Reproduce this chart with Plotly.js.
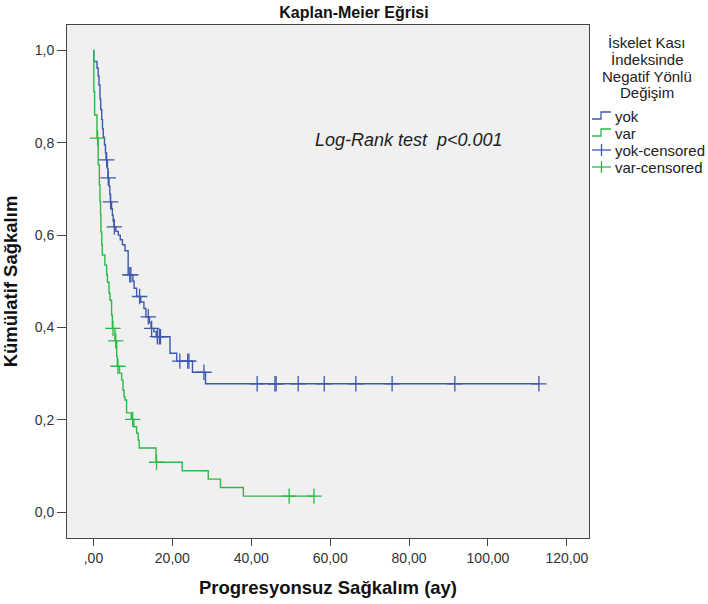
<!DOCTYPE html>
<html>
<head>
<meta charset="utf-8">
<script src="https://cdn.plot.ly/plotly-3.0.1.min.js"></script>
<style>html,body{margin:0;padding:0;background:#fff;}#chart{width:708px;height:604px;}</style>
</head>
<body>
<div id="chart"></div>
<script>
// Kaplan-Meier step data
var yokTime = [0, 0.1, 0.9, 1.2, 1.4, 1.65, 1.85, 2.1, 2.3, 2.5, 2.8, 3.05, 3.2, 3.55, 3.7, 3.95, 4.15, 4.3, 4.6, 4.8, 5.0, 5.2, 5.7, 6.3, 6.8, 7.35, 8.0, 8.8, 10.0, 10.3, 10.95, 12.0, 12.8, 13.3, 14.2, 14.6, 15.3, 15.9, 19.4, 21.1, 25.1, 28.4, 112.9];
var yokSurv = [1.0, 0.976, 0.962, 0.945, 0.925, 0.895, 0.872, 0.850, 0.830, 0.812, 0.795, 0.778, 0.763, 0.744, 0.724, 0.706, 0.689, 0.672, 0.657, 0.643, 0.630, 0.618, 0.608, 0.600, 0.590, 0.579, 0.566, 0.514, 0.500, 0.485, 0.467, 0.455, 0.441, 0.423, 0.410, 0.398, 0.391, 0.380, 0.344, 0.327, 0.303, 0.278, 0.278];
var yokCensored = [3.35, 3.75, 4.35, 5.3, 9.2, 9.5, 11.7, 13.9, 14.75, 16.2, 16.7, 17.0, 21.9, 23.9, 24.2, 28.0, 41.5, 46.0, 46.3, 51.9, 58.5, 66.5, 75.7, 91.6, 112.9];

var varTime = [0, 0.1, 0.3, 0.9, 1.2, 1.5, 1.65, 1.8, 1.9, 2.1, 2.25, 2.9, 3.35, 3.55, 3.95, 4.2, 4.6, 4.8, 5.45, 5.9, 6.05, 6.6, 7.15, 7.5, 7.75, 8.0, 8.4, 9.6, 10.25, 10.95, 11.35, 11.6, 15.85, 22.5, 29.1, 32.2, 38.0, 55.9];
var varSurv = [1.0, 0.911, 0.860, 0.810, 0.752, 0.709, 0.672, 0.644, 0.607, 0.579, 0.557, 0.535, 0.514, 0.498, 0.474, 0.459, 0.427, 0.398, 0.371, 0.337, 0.316, 0.301, 0.286, 0.264, 0.250, 0.243, 0.215, 0.201, 0.185, 0.171, 0.156, 0.139, 0.108, 0.0895, 0.0715, 0.0535, 0.0347, 0.0347];
var varCensored = [1.05, 4.95, 5.65, 6.2, 9.95, 16.0, 49.6, 55.9];

var xTickVals = [0, 20, 40, 60, 80, 100, 120];
var xTickText = [',00', '20,00', '40,00', '60,00', '80,00', '100,00', '120,00'];
var yTickVals = [0, 0.2, 0.4, 0.6, 0.8, 1.0];
var yTickText = ['0,0', '0,2', '0,4', '0,6', '0,8', '1,0'];

var legendTitleLines = ['İskelet Kası', 'İndeksinde', 'Negatif Yönlü', 'Değişim'];
var legendNames = ['yok', 'var', 'yok-censored', 'var-censored'];

function survAt(T, S, t) {
  var v = S[0];
  for (var i = 0; i < T.length; i++) { if (T[i] <= t) v = S[i]; }
  return v;
}

var BLUE = '#3E58AC', GREEN = '#2EB848';
var FONT = 'Liberation Sans, Arial, sans-serif';
var NARROW = 'Liberation Sans Narrow, Arial Narrow, Liberation Sans, sans-serif';
var colors = [BLUE, GREEN, BLUE, GREEN];

var traces = [
  {x: yokTime, y: yokSurv, name: legendNames[0], type: 'scatter', mode: 'lines',
   line: {shape: 'hv', color: BLUE, width: 1.4}},
  {x: varTime, y: varSurv, name: legendNames[1], type: 'scatter', mode: 'lines',
   line: {shape: 'hv', color: GREEN, width: 1.4}},
  {x: yokCensored, y: yokCensored.map(function(t){return survAt(yokTime, yokSurv, t);}),
   name: legendNames[2], type: 'scatter', mode: 'markers',
   marker: {symbol: 'cross-thin-open', size: 11, line: {color: BLUE, width: 1.3}, color: BLUE}},
  {x: varCensored, y: varCensored.map(function(t){return survAt(varTime, varSurv, t);}),
   name: legendNames[3], type: 'scatter', mode: 'markers',
   marker: {symbol: 'cross-thin-open', size: 11, line: {color: GREEN, width: 1.3}, color: GREEN}}
];

// pixel -> paper helpers for the hand-made legend (plot area 67..589 x 25..538)
function P(px) { return (px - 67) / 522; }
function Q(py) { return (538 - py) / 513; }

var annotations = [
  {x: 80, y: 0.806, xref: 'x', yref: 'y', showarrow: false,
   text: '<i>Log-Rank test  p<0.001</i>', font: {family: FONT, size: 18, color: '#222'}}
];
var titleY = [42, 59, 76, 92];
legendTitleLines.forEach(function(t, i) {
  annotations.push({x: P(647), y: Q(titleY[i]), xref: 'paper', yref: 'paper', xanchor: 'center', yanchor: 'middle',
    showarrow: false, text: t, font: {family: FONT, size: 15, color: '#222'}});
});
var shapes = [];
var rowY = [116, 133, 150, 167];
legendNames.forEach(function(n, i) {
  var y = rowY[i];
  annotations.push({x: P(613), y: Q(y), xref: 'paper', yref: 'paper', xanchor: 'left', yanchor: 'middle',
    showarrow: false, text: n, font: {family: FONT, size: 15, color: '#222'}});
  if (i < 2) {
    shapes.push({type: 'path', xref: 'paper', yref: 'paper',
      path: 'M ' + P(592) + ',' + Q(y + 3) + ' L ' + P(601) + ',' + Q(y + 3) + ' L ' + P(601) + ',' + Q(y - 4) + ' L ' + P(611) + ',' + Q(y - 4),
      line: {color: colors[i], width: 1.3}});
  } else {
    shapes.push({type: 'line', xref: 'paper', yref: 'paper', x0: P(592), x1: P(611), y0: Q(y), y1: Q(y),
      line: {color: colors[i], width: 1.3}});
    shapes.push({type: 'line', xref: 'paper', yref: 'paper', x0: P(601.5), x1: P(601.5), y0: Q(y - 6), y1: Q(y + 6),
      line: {color: colors[i], width: 1.3}});
  }
});

var layout = {
  width: 708, height: 604,
  margin: {l: 67, r: 119, t: 25, b: 66, autoexpand: false},
  paper_bgcolor: '#ffffff',
  plot_bgcolor: '#f0f0f0',
  font: {family: FONT, color: '#222'},
  title: {text: '<b>Kaplan-Meier Eğrisi</b>', x: 0.5, xref: 'container', xanchor: 'center', y: 0.98, yanchor: 'middle',
          font: {family: NARROW, size: 16, color: '#111'}},
  xaxis: {
    range: [-6.7, 125.6], tickvals: xTickVals, ticktext: xTickText,
    showgrid: false, zeroline: false, showline: true, mirror: true, linecolor: '#444', linewidth: 1,
    ticks: 'outside', ticklen: 7, tickcolor: '#444', tickfont: {size: 14, color: '#333'},
    title: {text: '<b>Progresyonsuz Sağkalım (ay)</b>', standoff: 16, font: {family: FONT, size: 18.5, color: '#111'}}
  },
  yaxis: {
    range: [-0.056, 1.055], tickvals: yTickVals, ticktext: yTickText,
    showgrid: false, zeroline: false, showline: true, mirror: true, linecolor: '#444', linewidth: 1,
    ticks: 'outside', ticklen: 9, tickcolor: '#444', tickfont: {size: 14, color: '#333'},
    title: {text: '<b>Kümülatif Sağkalım</b>', standoff: 12, font: {family: FONT, size: 18.5, color: '#111'}}
  },
  showlegend: false,
  annotations: annotations,
  shapes: shapes
};

Plotly.newPlot('chart', traces, layout, {displayModeBar: false, staticPlot: true});
</script>
</body>
</html>
